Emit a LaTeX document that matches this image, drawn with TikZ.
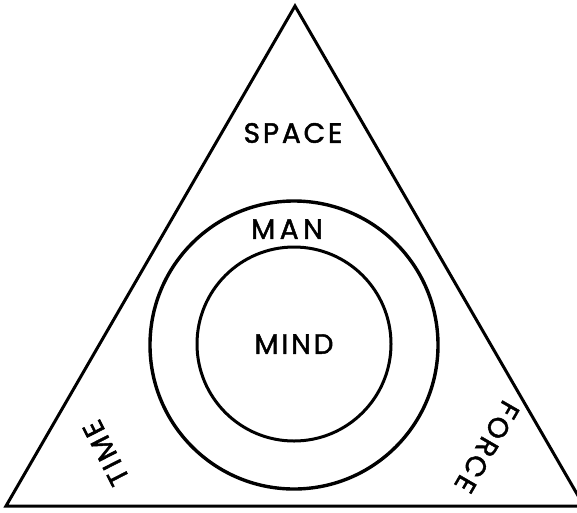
\documentclass[tikz,border=0pt]{standalone}
\usepackage{fontspec}
\newfontfamily\letterfont[LetterSpace=10, FakeBold=1.6]{Poppins}
\usetikzlibrary{positioning}

\begin{document}
\begin{tikzpicture}[
  x=1pt, y=-1pt,
  ring/.style={circle, draw=black, line width=3pt, inner sep=0pt},
  word/.style={font=\letterfont\fontsize{28}{28}\selectfont, inner sep=0pt}
]
  \useasboundingbox (0,0) rectangle (577,512);

  % Corners
  \coordinate (apex)  at (295,6);
  \coordinate (left)  at (6,506);
  \coordinate (right) at (584,506);

  % Triangle
  \draw[line width=3pt, line join=miter] (apex) -- (left) -- (right) -- cycle;

  % Circles
  \node[ring, line width=3.4pt, minimum size=288pt] (man)  at (294,345) {};
  \node[ring, minimum size=194pt, word] (mind) at (294,344) {MIND};

  % Labels
  \node[word] (space) at (293,133) {SPACE};
  \node[word, font=\letterfont\fontsize{28}{28}\selectfont\addfontfeature{LetterSpace=16}]
    (manlabel) at (287,229) {MAN};
  \node[word, rotate=117]  (time)  at (106,453) {TIME};
  \node[word, rotate=-120] (force) at (487,447) {FORCE};
\end{tikzpicture}
\end{document}
